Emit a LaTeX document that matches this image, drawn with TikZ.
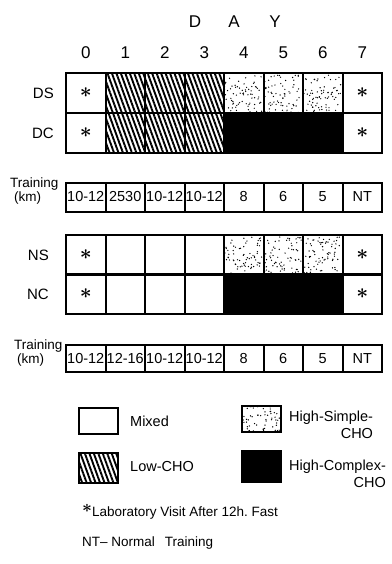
\documentclass[tikz,border=0pt]{standalone}
\usepackage{fontspec}
\setmainfont{Liberation Sans}
\usetikzlibrary{patterns.meta}

\newcommand{\fs}[1]{\fontsize{#1}{#1}\selectfont}
\newcommand{\fastmark}{{\fs{22}\boldmath$\ast$}}

\begin{document}
\begin{tikzpicture}[x=1pt, y=-1pt,
  cell/.style={draw, line width=2pt, minimum width=39.5pt, minimum height=40pt, inner sep=0pt, font=\fs{16}},
  kmcell/.style={cell, minimum height=29pt, font=\fs{14.5}},
  mixed/.style={},
  lowcho/.style={pattern={Lines[angle=110, distance=4.2pt, line width=1.9pt]}},
  hicomplex/.style={fill=black},
  hisimple/.style={path picture={\foreach \k in {1,...,75}
      \fill ([shift={(rnd*38pt,rnd*38pt)}]path picture bounding box.south west) circle (0.7pt);}},
  key/.style={draw, line width=2pt, minimum width=39pt, minimum height=26pt, inner sep=0pt},
  lbl/.style={font=\fs{14.5}, inner sep=0pt}]
  \useasboundingbox (0,0) rectangle (391,564);
  \pgfmathsetseed{11}
  % day header
  \foreach \c/\x in {D/195, A/234, Y/275} \node[font=\fs{17}] (day\c) at (\x,22) {\c};
  \foreach \i in {0,...,7} \node[font=\fs{17}] (n\i) at (85.75+39.5*\i,53) {\i};
  % diet rows
  \foreach \r/\yy/\a/\b in {ds/93/lowcho/hisimple, dc/133/lowcho/hicomplex,
      ns/255/mixed/hisimple, nc/294/mixed/hicomplex}{
    \node[cell] (\r0) at (85.75,\yy) {\fastmark};
    \foreach \i in {1,2,3} \node[cell,\a] (\r\i) at (85.75+39.5*\i,\yy) {};
    \foreach \i in {4,5,6} \node[cell,\b] (\r\i) at (85.75+39.5*\i,\yy) {};
    \node[cell] (\r7) at (362.25,\yy) {\raisebox{-3pt}{\fastmark}};
  }
  \foreach \r/\t/\s in {ds/DS/11, dc/DC/11, ns/NS/16, nc/NC/16}
    \node[font=\fs{15}, anchor=east, inner sep=0pt] (\r lbl) at ([xshift=-\s pt]\r0.west) {\t};
  % training
  \foreach \t [count=\i from 0] in {10-12,2530,10-12,10-12,8,6,5,NT}
    \node[kmcell] (ka\i) at (85.75+39.5*\i,197) {\t};
  \foreach \t [count=\i from 0] in {10-12,12-16,10-12,10-12,8,6,5,NT}
    \node[kmcell, minimum height=27pt] (kb\i) at (85.75+39.5*\i,358.5) {\t};
  \node[lbl, font=\fs{13.5}, anchor=west] (tra) at (10,184) {Training};
  \node[lbl, font=\fs{13.5}, anchor=west] (kma) at (14,198) {(km)};
  \node[lbl, font=\fs{13.5}, anchor=west] (trb) at (14,346) {Training};
  \node[lbl, font=\fs{13.5}, anchor=west] (kmb) at (17,360) {(km)};
  % legend
  \node[key, mixed] (kmix) at (98.5,420.5) {};
  \node[key, lowcho, minimum height=30pt] (klow) at (98,468) {};
  \node[key, hisimple] (ksim) at (261,419) {};
  \node[key, hicomplex, minimum height=31pt] (kcpx) at (261.5,466.5) {};
  \node[lbl, anchor=west] (tmix) at (130,421) {Mixed};
  \node[lbl, anchor=west] (tlow) at (130,467) {Low-CHO};
  \node[lbl, align=right, anchor=west] (tsim) at (289,425) {High-Simple-\\[3pt]CHO};
  \node[lbl, align=right, anchor=west] (tcpx) at (289,474) {High-Complex-\\[3pt]CHO};
  % notes
  \node[font=\fs{13.5}, anchor=west, inner sep=0pt] (lab) at (82,512) {\raisebox{4pt}{\fs{18}\boldmath$\ast$}Laboratory Visit\ After\ 12h.\ Fast};
  \node[font=\fs{13.5}, anchor=west, inner sep=0pt] (nt) at (82,543) {NT-- Normal\hspace{10pt}Training};
\end{tikzpicture}
\end{document}
